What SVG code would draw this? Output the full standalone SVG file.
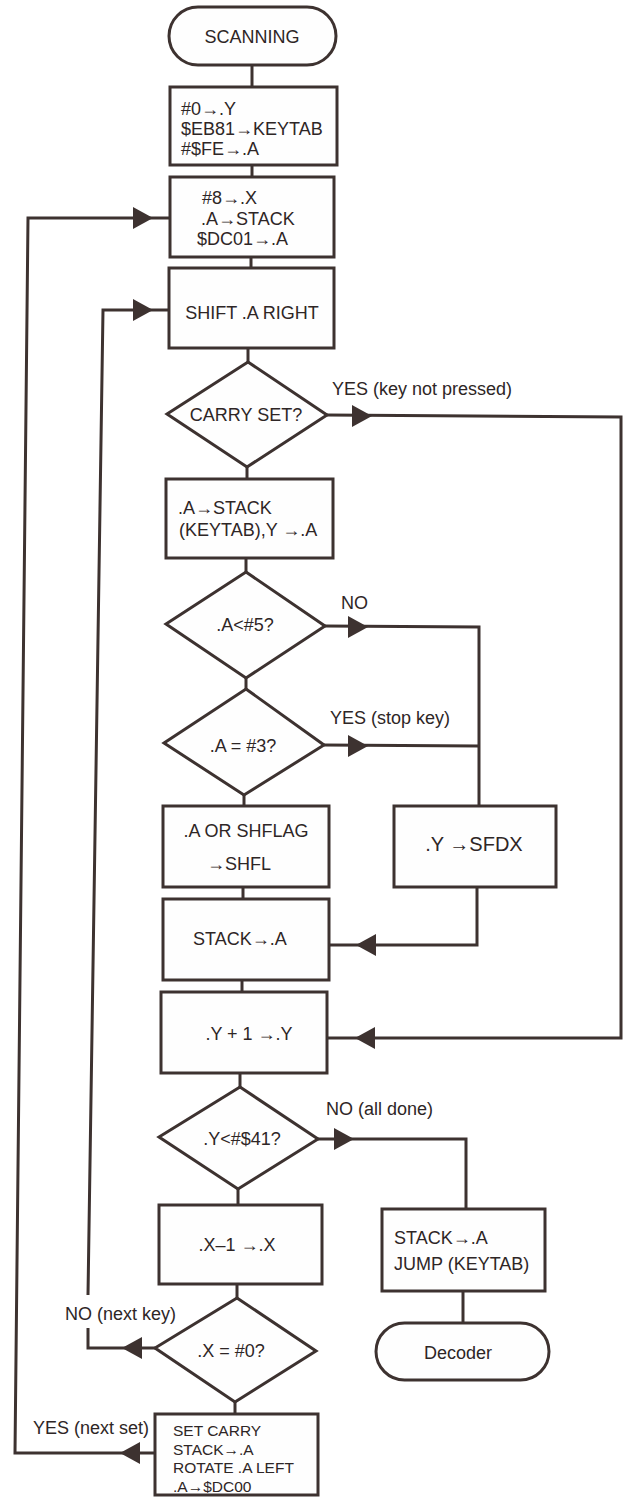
<svg xmlns="http://www.w3.org/2000/svg" xmlns:xlink="http://www.w3.org/1999/xlink" width="625" height="1497" viewBox="0 0 625 1497">
<style>
.sh{fill:#fefefe;stroke:#3d3230;stroke-width:3;stroke-linejoin:miter}
.ln{fill:none;stroke:#3d3230;stroke-width:3;stroke-linejoin:miter}
.ah{fill:#3d3230;stroke:none}
text{font-family:"Liberation Sans",Arial,sans-serif;font-size:18px;fill:#2e2626}
.c{text-anchor:middle}
.sm{font-size:15.5px}
.lg{font-size:20px}
</style>
<defs>
<path id="ar" d="M-20,-11 L0,0 L-20,11 Z"/>
<path id="al" d="M20,-11 L0,0 L20,11 Z"/>
</defs>
<rect x="0" y="0" width="625" height="1497" fill="#ffffff"/>

<g id="connectors">
<path class="ln" d="M252,65 L252,87"/>
<path class="ln" d="M252,165 L252,177"/>
<path class="ln" d="M251,257 L251,268"/>
<path class="ln" d="M248,348 L248,362"/>
<path class="ln" d="M247,467 L247,479"/>
<path class="ln" d="M246,558 L246,572"/>
<path class="ln" d="M246,678 L246,689"/>
<path class="ln" d="M244,795 L244,806"/>
<path class="ln" d="M243,887 L243,899"/>
<path class="ln" d="M242,980 L242,992"/>
<path class="ln" d="M240,1073 L240,1087"/>
<path class="ln" d="M238,1189 L238,1205"/>
<path class="ln" d="M237,1284 L237,1298"/>
<path class="ln" d="M235,1402 L235,1414"/>
<!-- outer loop YES (next set) -->
<path class="ln" d="M155,1453 L15,1453 L28,218 L170,218"/>
<use href="#al" x="120" y="1453" class="ah"/>
<use href="#ar" x="153" y="218" class="ah"/>
<!-- inner loop NO (next key) -->
<path class="ln" d="M155,1348 L88,1348 L88,1328"/>
<path class="ln" d="M88,1295 L103,310 L169,310"/>
<use href="#al" x="122" y="1348" class="ah"/>
<use href="#ar" x="153" y="310" class="ah"/>
<!-- YES key not pressed -->
<path class="ln" d="M327,415 L621,417 L621,1038 L327,1038"/>
<use href="#ar" x="372" y="416" class="ah"/>
<use href="#al" x="355" y="1038" class="ah"/>
<!-- NO -->
<path class="ln" d="M325,626 L479,627 L479,806"/>
<use href="#ar" x="368" y="627" class="ah"/>
<!-- YES stop key -->
<path class="ln" d="M324,745 L479,746"/>
<use href="#ar" x="368" y="746" class="ah"/>
<!-- SFDX to STACK -->
<path class="ln" d="M477,887 L477,945 L329,945"/>
<use href="#al" x="356" y="945" class="ah"/>
<!-- NO all done -->
<path class="ln" d="M318,1139 L466,1139 L466,1209"/>
<use href="#ar" x="354" y="1139" class="ah"/>
<!-- JUMP to Decoder -->
<path class="ln" d="M463,1291 L463,1323"/>
</g>

<g id="scanning">
<rect class="sh" x="169" y="7" width="167" height="58" rx="29"/>
<text class="c" x="252" y="42.5">SCANNING</text>
</g>
<g id="init">
<rect class="sh" x="170" y="87" width="167" height="78"/>
<text x="181" y="114.5">#0→.Y</text>
<text x="181" y="134.5">$EB81→KEYTAB</text>
<text x="181" y="154.5">#$FE→.A</text>
</g>
<g id="setx">
<rect class="sh" x="170" y="177" width="164" height="80"/>
<text x="202" y="203.5">#8→.X</text>
<text x="201" y="224.5">.A→STACK</text>
<text x="197" y="244.5">$DC01→.A</text>
</g>
<g id="shift">
<rect class="sh" x="169" y="268" width="165" height="80"/>
<text class="c" x="252" y="318.5">SHIFT .A RIGHT</text>
</g>
<g id="carry">
<polygon class="sh" points="248,362 327,415 247,467 167,414"/>
<text class="c" x="246" y="421">CARRY SET?</text>
<text x="332" y="394.5">YES (key not pressed)</text>
</g>
<g id="readkey">
<rect class="sh" x="166" y="479" width="167" height="79"/>
<text x="178" y="513.5">.A→STACK</text>
<text x="179" y="535.5">(KEYTAB),Y →.A</text>
</g>
<g id="lt5">
<polygon class="sh" points="246,572 325,626 246,678 166,624"/>
<text class="c" x="245" y="630.5">.A&lt;#5?</text>
<text x="341" y="608.5">NO</text>
</g>
<g id="eq3">
<polygon class="sh" points="246,689 324,745 244,795 164,743"/>
<text class="c" x="243" y="751.5">.A = #3?</text>
<text x="330" y="723.5">YES (stop key)</text>
</g>
<g id="shflag">
<rect class="sh" x="163" y="806" width="166" height="81"/>
<text class="c" x="246" y="836.5">.A OR SHFLAG</text>
<text x="207" y="869.5">→SHFL</text>
</g>
<g id="sfdx">
<rect class="sh" x="394" y="806" width="162" height="81"/>
<text class="c lg" x="474" y="850.5">.Y →SFDX</text>
</g>
<g id="pop1">
<rect class="sh" x="163" y="899" width="166" height="81"/>
<text x="193" y="944.5">STACK→.A</text>
</g>
<g id="incy">
<rect class="sh" x="161" y="992" width="166" height="81"/>
<text class="c" x="249" y="1039.5">.Y + 1 →.Y</text>
</g>
<g id="ylt41">
<polygon class="sh" points="240,1087 318,1139 238,1189 159,1137"/>
<text class="c" x="242" y="1144.5">.Y&lt;#$41?</text>
<text x="326" y="1114.5">NO (all done)</text>
</g>
<g id="decx">
<rect class="sh" x="159" y="1205" width="163" height="79"/>
<text class="c" x="237" y="1250.5">.X–1 →.X</text>
</g>
<g id="jump">
<rect class="sh" x="382" y="1209" width="163" height="82"/>
<text x="394" y="1243.5">STACK→.A</text>
<text x="394" y="1269.5">JUMP (KEYTAB)</text>
</g>
<g id="decoder">
<rect class="sh" x="376" y="1323" width="173" height="57" rx="28.5"/>
<text class="c" x="458" y="1358.5">Decoder</text>
</g>
<g id="xeq0">
<polygon class="sh" points="237,1298 316,1351 235,1402 155,1348"/>
<text class="c" x="231" y="1356.5">.X = #0?</text>
<text x="65" y="1319.5">NO (next key)</text>
<text x="33" y="1433.5">YES (next set)</text>
</g>
<g id="nextset">
<rect class="sh" x="155" y="1414" width="163" height="81"/>
<text class="sm" x="173" y="1436">SET CARRY</text>
<text class="sm" x="173" y="1454.5">STACK→.A</text>
<text class="sm" x="173" y="1473">ROTATE .A LEFT</text>
<text class="sm" x="173" y="1491.5">.A→$DC00</text>
</g>
</svg>
